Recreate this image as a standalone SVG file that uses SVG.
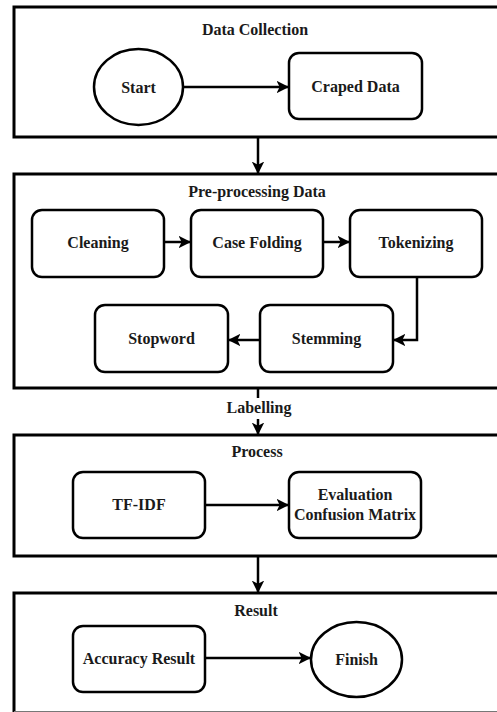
<svg xmlns="http://www.w3.org/2000/svg" width="497" height="712" viewBox="0 0 497 712">
<style>
  .box { fill: #fff; stroke: #000; stroke-width: 3; }
  .node { fill: #fff; stroke: #000; stroke-width: 2.5; }
  .t { font-family: "Liberation Serif", "Times New Roman", serif; font-weight: bold; font-size: 16px; fill: #1a1a1a; text-anchor: middle; }
  .edge { fill: none; stroke: #000; stroke-width: 2.5; }
</style>
<defs>
  <marker id="arr" viewBox="0 0 12 12" refX="11" refY="6" markerWidth="5" markerHeight="5" orient="auto" markerUnits="strokeWidth">
    <path d="M0,0 L12,6 L0,12 L3,6 z" fill="#000"/>
  </marker>
</defs>
<rect width="497" height="712" fill="#fff"/>

<g id="data-collection">
  <rect class="box" x="14" y="7" width="500" height="130"/>
  <text class="t" x="255" y="35">Data Collection</text>
</g>
<g id="pre-processing">
  <rect class="box" x="14" y="174" width="500" height="214"/>
  <text class="t" x="257" y="197">Pre-processing Data</text>
</g>
<g id="process">
  <rect class="box" x="14" y="435" width="500" height="121"/>
  <text class="t" x="257" y="457">Process</text>
</g>
<g id="result">
  <rect class="box" x="14" y="593" width="500" height="125"/>
  <text class="t" x="256" y="616">Result</text>
</g>

<g id="connectors">
  <path class="edge" d="M183,87 L288,87" marker-end="url(#arr)"/>
  <path class="edge" d="M258,138 L258,173" marker-end="url(#arr)"/>
  <path class="edge" d="M164,242 L190,242" marker-end="url(#arr)"/>
  <path class="edge" d="M323,242 L349,242" marker-end="url(#arr)"/>
  <path class="edge" d="M417,277 L417,340 L394,340" marker-end="url(#arr)"/>
  <path class="edge" d="M260,340 L229,340" marker-end="url(#arr)"/>
  <path class="edge" d="M258,389 L258,434" marker-end="url(#arr)"/>
  <path class="edge" d="M205,505 L288,505" marker-end="url(#arr)"/>
  <path class="edge" d="M258,557 L258,592" marker-end="url(#arr)"/>
  <path class="edge" d="M205,658 L310,658" marker-end="url(#arr)"/>
  <rect x="222" y="398" width="74" height="21" fill="#fff"/>
  <text class="t" x="259" y="413">Labelling</text>
</g>

<g id="start">
  <ellipse class="node" cx="138.5" cy="87" rx="44.5" ry="38"/>
  <text class="t" x="138.5" y="92.5">Start</text>
</g>
<g id="craped-data">
  <rect class="node" x="289" y="53" width="133" height="66" rx="10"/>
  <text class="t" x="355.5" y="92">Craped Data</text>
</g>
<g id="cleaning">
  <rect class="node" x="32" y="210" width="132" height="67" rx="10"/>
  <text class="t" x="98" y="248">Cleaning</text>
</g>
<g id="case-folding">
  <rect class="node" x="191" y="210" width="132" height="67" rx="10"/>
  <text class="t" x="257" y="248">Case Folding</text>
</g>
<g id="tokenizing">
  <rect class="node" x="350" y="210" width="132" height="67" rx="10"/>
  <text class="t" x="416" y="248">Tokenizing</text>
</g>
<g id="stemming">
  <rect class="node" x="260" y="305" width="133" height="67" rx="10"/>
  <text class="t" x="326.5" y="344">Stemming</text>
</g>
<g id="stopword">
  <rect class="node" x="95" y="305" width="133" height="67" rx="10"/>
  <text class="t" x="161.5" y="344">Stopword</text>
</g>
<g id="tf-idf">
  <rect class="node" x="73" y="472" width="132" height="66" rx="10"/>
  <text class="t" x="139" y="510">TF-IDF</text>
</g>
<g id="evaluation">
  <rect class="node" x="289" y="472" width="132" height="66" rx="10"/>
  <text class="t" x="355" y="500">Evaluation</text>
  <text class="t" x="355" y="520">Confusion Matrix</text>
</g>
<g id="accuracy-result">
  <rect class="node" x="73" y="626" width="132" height="66" rx="10"/>
  <text class="t" x="139" y="664">Accuracy Result</text>
</g>
<g id="finish">
  <ellipse class="node" cx="356.5" cy="659.5" rx="45.5" ry="37.5"/>
  <text class="t" x="356.5" y="665">Finish</text>
</g>
<line x1="14" y1="711.5" x2="497" y2="711.5" stroke="#777" stroke-width="1"/>
</svg>
